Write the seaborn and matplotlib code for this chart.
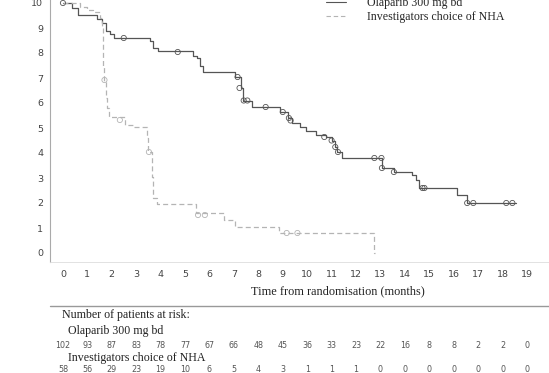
import pandas as pd
import matplotlib
matplotlib.use("Agg")
import matplotlib.pyplot as plt
import matplotlib.transforms as mtransforms
from matplotlib.lines import Line2D
import seaborn as sns

# ==========================================
# Data
# ==========================================

ola_time = [0, 0.37, 0.61, 1.39, 1.59, 1.76, 1.92, 2.08, 3.56, 3.68, 3.88, 5.31,
            5.48, 5.60, 5.72, 7.03, 7.27, 7.36, 7.72, 8.87, 9.20, 9.36, 9.69, 9.97,
            10.38, 10.79, 11.03, 11.12, 11.24, 11.44, 13.08, 13.57, 14.30, 14.47,
            14.59, 16.14, 16.55, 18.55]
ola_surv = [10, 9.8, 9.52, 9.36, 9.2, 8.9, 8.75, 8.6, 8.5, 8.2, 8.1, 7.9,
            7.8, 7.5, 7.24, 7.04, 6.6, 6.1, 5.84, 5.64, 5.4, 5.2, 5.04, 4.9,
            4.72, 4.64, 4.5, 4.24, 4.04, 3.8, 3.4, 3.24, 3.12, 2.92,
            2.6, 2.32, 2.0, 2.0]
ola_cens_t = [0, 2.49, 4.7, 7.15, 7.23, 7.4, 7.55, 8.3, 9.0, 9.25, 9.32, 10.7,
              11.0, 11.15, 11.26, 12.75, 13.04, 13.06, 13.55, 14.72, 14.8,
              16.55, 16.8, 18.15, 18.4]
ola_cens_s = [10, 8.6, 8.04, 7.04, 6.6, 6.1, 6.1, 5.84, 5.64, 5.4, 5.3, 4.64,
              4.5, 4.24, 4.04, 3.8, 3.8, 3.4, 3.24, 2.6, 2.6,
              2.0, 2.0, 2.0, 2.0]

nha_time = [0, 0.69, 0.98, 1.23, 1.51, 1.59, 1.62, 1.66, 1.70, 1.76, 1.80, 1.88,
            2.53, 2.86, 3.45, 3.50, 3.63, 3.68, 3.84, 5.43, 6.58, 7.03, 8.83,
            12.75, 12.76]
nha_surv = [10, 9.85, 9.72, 9.64, 9.4, 9.0, 8.0, 7.5, 6.9, 6.2, 5.8, 5.44,
            5.12, 5.04, 4.6, 4.04, 3.04, 2.2, 1.96, 1.6, 1.32, 1.04, 0.8,
            0.0, 0.0]
nha_cens_t = [1.70, 2.33, 3.52, 5.53, 5.81, 9.16, 9.6]
nha_cens_s = [6.92, 5.32, 4.04, 1.52, 1.52, 0.8, 0.8]

months = list(range(20))
ola_risk = [102, 93, 87, 83, 78, 77, 67, 66, 48, 45, 36, 33, 23, 22, 16, 8, 8, 2, 2, 0]
nha_risk = [58, 56, 29, 23, 19, 10, 6, 5, 4, 3, 1, 1, 1, 0, 0, 0, 0, 0, 0, 0]

ola_label = "Olaparib 300 mg bd"
nha_label = "Investigators choice of NHA"

ola_color = "#555555"
nha_color = "#b4b4b4"
serif = "Liberation Serif"

# ==========================================
# Plot
# ==========================================

sns.set_style("white")

fig = plt.figure(figsize=(5.49, 3.73), dpi=100)
ax = fig.add_axes([50 / 549, 1 - 262 / 373, 1 - 50 / 549, 262 / 373])

ola = pd.DataFrame({"time": ola_time, "surv": ola_surv})
nha = pd.DataFrame({"time": nha_time, "surv": nha_surv})

sns.lineplot(data=ola, x="time", y="surv", drawstyle="steps-post", estimator=None,
             sort=False, color=ola_color, linewidth=0.9, ax=ax)
sns.lineplot(data=nha, x="time", y="surv", drawstyle="steps-post", estimator=None,
             sort=False, color=nha_color, linewidth=0.9, linestyle=(0, (4, 2.5)), ax=ax)

sns.scatterplot(x=ola_cens_t, y=ola_cens_s, marker="o", s=14, facecolors="none",
                edgecolor=ola_color, linewidth=0.6, ax=ax, zorder=3)
sns.scatterplot(x=nha_cens_t, y=nha_cens_s, marker="o", s=14, facecolors="none",
                edgecolor=nha_color, linewidth=0.6, ax=ax, zorder=3)

ax.set_xlim(-0.53, 19.9)
ax.set_ylim(-0.36, 10.12)
ax.set_xticks(months)
ax.set_yticks(range(11))
ax.set_xlabel("")
ax.set_ylabel("")
ax.tick_params(axis="both", labelsize=6.8, labelcolor="#444444", color="#999999",
               length=2, width=0.6, pad=3)
ax.tick_params(axis="x", pad=4)
for side in ["top", "right"]:
    ax.spines[side].set_visible(False)
ax.spines["left"].set_color("#aaaaaa")
ax.spines["bottom"].set_color("#dddddd")
ax.spines["left"].set_linewidth(0.8)
ax.spines["bottom"].set_linewidth(0.6)

# legend (top right, partly cut by the top edge)
ax.legend(handles=[Line2D([], [], color=ola_color, lw=0.8),
                   Line2D([], [], color=nha_color, lw=0.8, ls=(0, (4, 2.5)))],
          labels=[ola_label, nha_label], loc="upper left",
          bbox_to_anchor=(320 / 549, 1.023), bbox_transform=fig.transFigure,
          frameon=False, prop={"family": serif, "size": 8.6},
          handlelength=1.7, handletextpad=1.7, labelspacing=0.12, borderpad=0)

fig.text(338 / 549, 1 - 291 / 373, "Time from randomisation (months)",
         family=serif, size=8.8, color="#222222", ha="center", va="center")

fig.add_artist(Line2D([50 / 549, 1.0], [1 - 306 / 373, 1 - 306 / 373],
                      color="#999999", lw=1.0))

# ==========================================
# Number at risk table
# ==========================================

trans = mtransforms.blended_transform_factory(ax.transData, fig.transFigure)

fig.text(62 / 549, 1 - 315 / 373, "Number of patients at risk:",
         family=serif, size=8.6, color="#222222", va="center")
fig.text(68 / 549, 1 - 331 / 373, ola_label,
         family=serif, size=8.6, color="#222222", va="center")
fig.text(68 / 549, 1 - 358 / 373, nha_label,
         family=serif, size=8.6, color="#222222", va="center")

for m, a, b in zip(months, ola_risk, nha_risk):
    ax.text(m, 1 - 345 / 373, str(a), transform=trans, ha="center", va="center",
            size=5.8, color="#555555")
    ax.text(m, 1 - 369 / 373, str(b), transform=trans, ha="center", va="center",
            size=5.8, color="#555555")

plt.savefig("out.png", dpi=100)
plt.close()
